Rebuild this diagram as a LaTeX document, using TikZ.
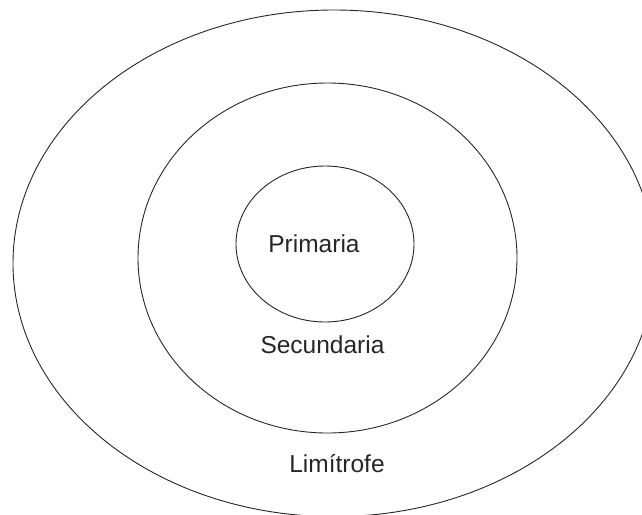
\documentclass[tikz,border=0pt]{standalone}
\usepackage{fontspec}
\setmainfont{Liberation Sans}
\begin{document}
\begin{tikzpicture}[x=1pt,y=-1pt,
  ring/.style={draw=black!85,line width=0.9pt},
  lbl/.style={font=\fontsize{24.5}{28}\selectfont,text=black!85,anchor=base,inner sep=0pt}]
\useasboundingbox (0,0) rectangle (642,514);
\clip (0,0) rectangle (642,514);
\draw[ring] (334,263.3) ellipse [x radius=321,y radius=253.3];
\draw[ring] (327.5,258) ellipse [x radius=189.5,y radius=175];
\draw[ring] (325,244) ellipse [x radius=89,y radius=78];
\node[lbl] (prim) at (314,252) {Primaria};
\node[lbl] (sec) at (322.5,353) {Secundaria};
\node[lbl] (lim) at (337,472) {Limítrofe};
\end{tikzpicture}
\end{document}
